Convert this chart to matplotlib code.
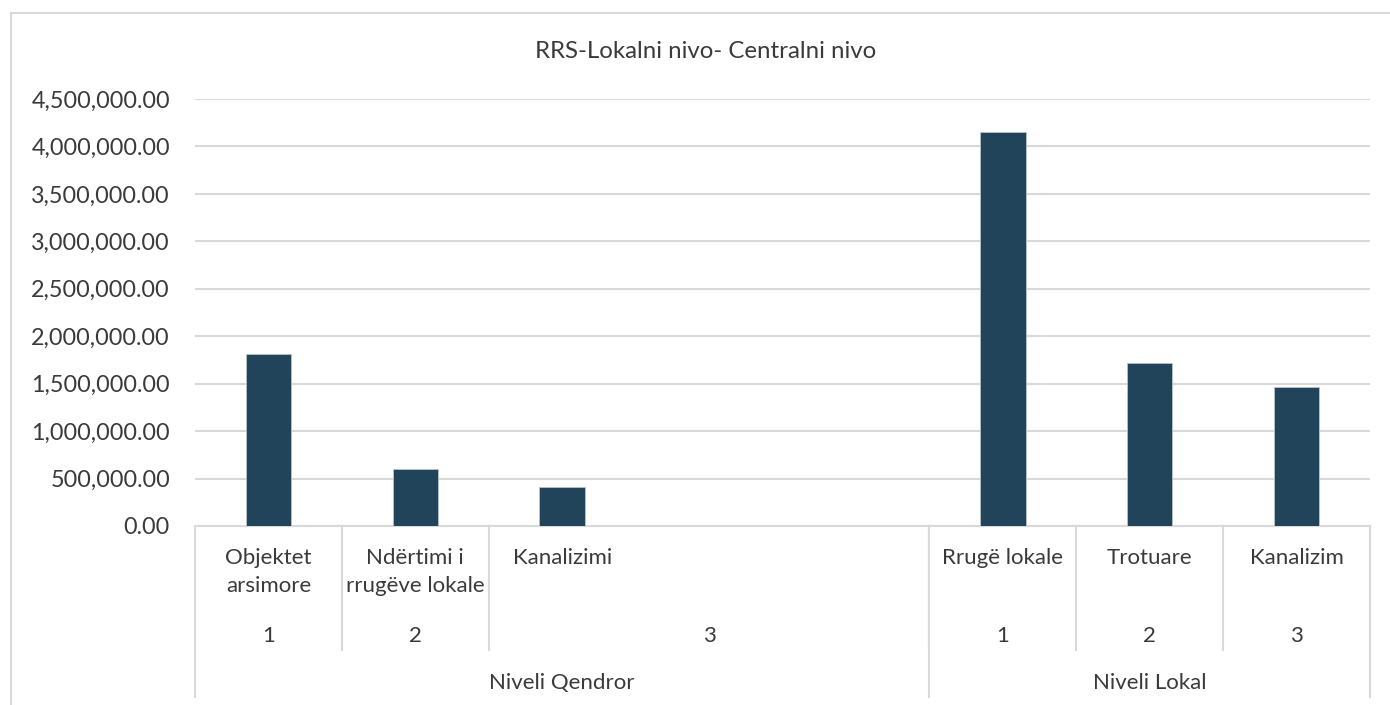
import numpy as np
import matplotlib.pyplot as plt
from matplotlib.patches import Rectangle
from matplotlib.transforms import blended_transform_factory

plt.rcParams['font.family'] = ['Lato', 'DejaVu Sans']

title = 'RRS-Lokalni nivo- Centralni nivo'
# lowest level labels, one per slot (Excel keeps empty slots)
items = ['Objektet\narsimore', 'Ndërtimi i\nrrugëve lokale', 'Kanalizimi', '', '',
         'Rrugë lokale', 'Trotuare', 'Kanalizim']
numbers = ['1', '2', '3', '3', '3', '1', '2', '3']
groups = ['Niveli Qendror'] * 5 + ['Niveli Lokal'] * 3
values = [1810000, 600000, 411000, np.nan, np.nan, 4150000, 1715000, 1462000]

W, H = 1390, 705
txt = '#3a3a3a'
grid_c = '#d9d9d9'
fig = plt.figure(figsize=(W / 100, H / 100), dpi=100)
x0, x1, ytop, ybot = 195, 1370, 99, 526
ax = fig.add_axes([x0 / W, 1 - ybot / H, (x1 - x0) / W, (ybot - ytop) / H])

# chart area border
fig.patches.append(Rectangle((11 / W, -0.1), 1.2, 1 - 13 / H + 0.1, transform=fig.transFigure,
                             fill=False, ec=grid_c, lw=1.5))

xs = np.arange(len(items))
ax.bar(xs, values, width=0.31, color='#22445b', edgecolor='#b8c4cc', linewidth=0.6, zorder=3)
ax.set_xlim(-0.5, len(items) - 0.5)
ax.set_ylim(0, 4500000)
ax.set_yticks(np.arange(0, 4500001, 500000))
ax.yaxis.set_major_formatter(plt.FuncFormatter(lambda v, p: '{:,.2f}'.format(v)))
ax.tick_params(axis='y', length=0, pad=18, labelsize=16.8, labelcolor=txt)
ax.set_xticks([])
ax.grid(axis='y', color=grid_c, lw=1.5, zorder=0)
for s in ['top', 'right', 'left']:
    ax.spines[s].set_visible(False)
ax.spines['bottom'].set_color(grid_c)
ax.spines['bottom'].set_linewidth(1.5)

fig.text(706 / W, 1 - 52 / H, title, ha='center', va='center', fontsize=17.3, color=txt)

tr = blended_transform_factory(ax.transData, ax.transAxes)
ph = ybot - ytop
def ay(py):
    return (ybot - py) / ph

# lowest level
for x, lab in zip(xs, items):
    ax.text(x, ay(548), lab, transform=tr, ha='center', va='top', fontsize=16,
            color=txt, linespacing=1.5, clip_on=False)

# middle and top levels: merge consecutive equal labels
def spans(labels, keys):
    out = []
    start = 0
    for i in range(1, len(labels) + 1):
        if i == len(labels) or labels[i] != labels[start] or keys[i] != keys[start]:
            out.append((labels[start], start, i - 1))
            start = i
    return out

for lab, a, b in spans(numbers, groups):
    ax.text((a + b) / 2, ay(636), lab, transform=tr, ha='center', va='center',
            fontsize=16, color=txt, clip_on=False)
    ax.plot([b + 0.5, b + 0.5], [0, ay(650)], transform=tr, color=grid_c, lw=1.5, clip_on=False)

for lab, a, b in spans(groups, groups):
    ax.text((a + b) / 2, ay(683), lab, transform=tr, ha='center', va='center',
            fontsize=16, color=txt, clip_on=False)
    ax.plot([b + 0.5, b + 0.5], [0, ay(697)], transform=tr, color=grid_c, lw=1.5, clip_on=False)
ax.plot([-0.5, -0.5], [0, ay(697)], transform=tr, color=grid_c, lw=1.5, clip_on=False)

fig.savefig('out.png', dpi=100)
